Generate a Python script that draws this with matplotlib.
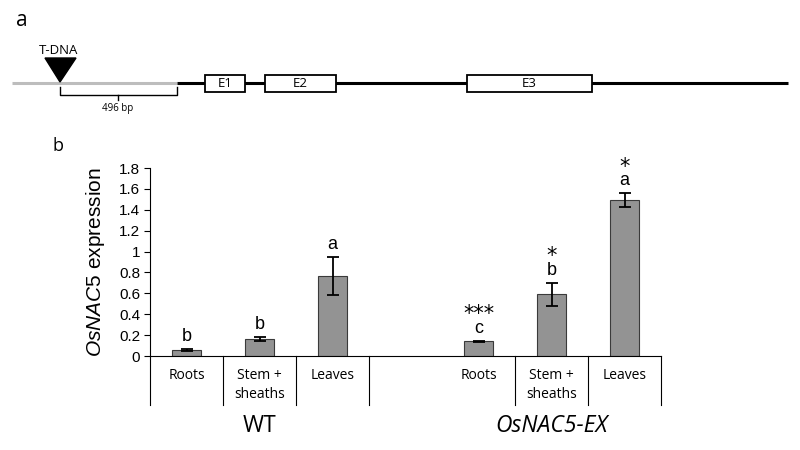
import matplotlib
matplotlib.use('Agg')
import matplotlib.pyplot as plt
import matplotlib.transforms as mtrans
from matplotlib.patches import Rectangle, Polygon

plt.rcParams['font.family'] = ['Liberation Sans', 'DejaVu Sans']
plt.rcParams['mathtext.fontset'] = 'custom'
plt.rcParams['mathtext.rm'] = 'Liberation Sans'
plt.rcParams['mathtext.it'] = 'Liberation Sans:italic'

# data
tissues = ['Roots', 'Stem +\nsheaths', 'Leaves']
groups = ['WT', 'OsNAC5-EX']
wt_values = [0.06, 0.163, 0.766]
wt_errors = [0.008, 0.02, 0.178]
ex_values = [0.14, 0.59, 1.494]
ex_errors = [0.005, 0.11, 0.065]
wt_letters = ['b', 'b', 'a']
ex_letters = ['c', 'b', 'a']
ex_stars = ['***', '*', '*']
y_ticks = [0, 0.2, 0.4, 0.6, 0.8, 1, 1.2, 1.4, 1.6, 1.8]

# gene schematic (pixel positions along the picture)
exon_names = ['E1', 'E2', 'E3']
exon_starts = [205, 265, 467]
exon_ends = [245, 336, 592]

fig = plt.figure(figsize=(8, 4.5), dpi=100)

# panel a, drawn in pixel space
sk = fig.add_axes([0, 0, 1, 1])
sk.set_xlim(0, 800)
sk.set_ylim(450, 0)
sk.axis('off')
sk.text(22, 20, 'a', fontsize=15, family='Open Sans', ha='center', va='center')
sk.plot([12, 177], [83, 83], color='#bdbdbd', lw=2.2, solid_capstyle='butt')
sk.plot([177, 788], [83, 83], color='black', lw=2.2, solid_capstyle='butt')
for name, s, e in zip(exon_names, exon_starts, exon_ends):
    sk.add_patch(Rectangle((s, 75), e - s, 17, facecolor='white',
                           edgecolor='black', lw=1.3, zorder=3))
    sk.text((s + e) / 2, 83.5, name, fontsize=9.5, family='Open Sans',
            ha='center', va='center', zorder=4)
sk.add_patch(Polygon([[45, 58], [76, 58], [60, 82]], closed=True,
                     facecolor='black', edgecolor='black', zorder=4))
sk.text(59, 51, 'T-DNA', fontsize=9.5, family='Open Sans', ha='center', va='center')
sk.plot([60, 60, 177, 177], [87, 95, 95, 87], color='black', lw=1)
sk.plot([118, 118], [95, 100], color='black', lw=1)
sk.text(118, 109, '496 bp', fontsize=7, family='Open Sans', ha='center', va='center')
sk.text(58, 146, 'b', fontsize=13, family='Open Sans', ha='center', va='center')

# panel b
ax = fig.add_axes([150 / 800, (450 - 356) / 450, (661 - 150) / 800, (356 - 168) / 450])
wt_x = [0, 1, 2]
ex_x = [4, 5, 6]
bar_w = 0.41
ax.bar(wt_x, wt_values, bar_w, yerr=wt_errors, color='#939393', edgecolor='#3a3a3a',
       lw=0.8, error_kw=dict(ecolor='black', elinewidth=1.3, capsize=4, capthick=1.3))
ax.bar(ex_x, ex_values, bar_w, yerr=ex_errors, color='#939393', edgecolor='#3a3a3a',
       lw=0.8, error_kw=dict(ecolor='black', elinewidth=1.3, capsize=4, capthick=1.3))

for x, v, e, l in zip(wt_x, wt_values, wt_errors, wt_letters):
    ax.annotate(l, (x, v + e), xytext=(0, 3), textcoords='offset points',
                ha='center', va='bottom', fontsize=13)
for x, v, e, l, s in zip(ex_x, ex_values, ex_errors, ex_letters, ex_stars):
    ax.annotate(l, (x, v + e), xytext=(0, 3), textcoords='offset points',
                ha='center', va='bottom', fontsize=13)
    ax.annotate(s, (x, v + e), xytext=(0, 12), textcoords='offset points',
                ha='center', va='bottom', fontsize=15, family='DejaVu Sans')

ax.set_xlim(-0.5, 6.5)
ax.set_ylim(0, 1.8)
ax.set_yticks(y_ticks)
ax.set_yticklabels(['%g' % t for t in y_ticks], fontsize=11)
ax.tick_params(axis='y', direction='out', length=4, width=0.8, pad=3)
ax.set_xticks([])
for pos in ['top', 'right']:
    ax.spines[pos].set_visible(False)
ax.spines['left'].set_linewidth(0.8)
ax.spines['bottom'].set_linewidth(0.8)
ax.set_ylabel(r'$\it{OsNAC5}$ expression', fontsize=15, labelpad=9)

# category axis with separators
tr = mtrans.blended_transform_factory(ax.transData, ax.transAxes)
for b in [-0.5, 0.5, 1.5, 2.5, 4.5, 5.5, 6.5]:
    ax.plot([b, b], [0, -0.263], color='black', lw=0.8, transform=tr, clip_on=False)
for xs in [wt_x, ex_x]:
    for x, t in zip(xs, tissues):
        for k, line in enumerate(t.split('\n')):
            ax.text(x, -0.106 - 0.101 * k, line, transform=tr, ha='center',
                    va='center', fontsize=10, family='Open Sans')
ax.text(1, -0.375, groups[0], transform=tr, ha='center', va='center',
        fontsize=16.5, family='Open Sans')
ax.text(5, -0.375, groups[1], transform=tr, ha='center', va='center',
        fontsize=16.5, family='Open Sans', fontstyle='italic')

plt.savefig('out.png', dpi=100)
plt.close(fig)
